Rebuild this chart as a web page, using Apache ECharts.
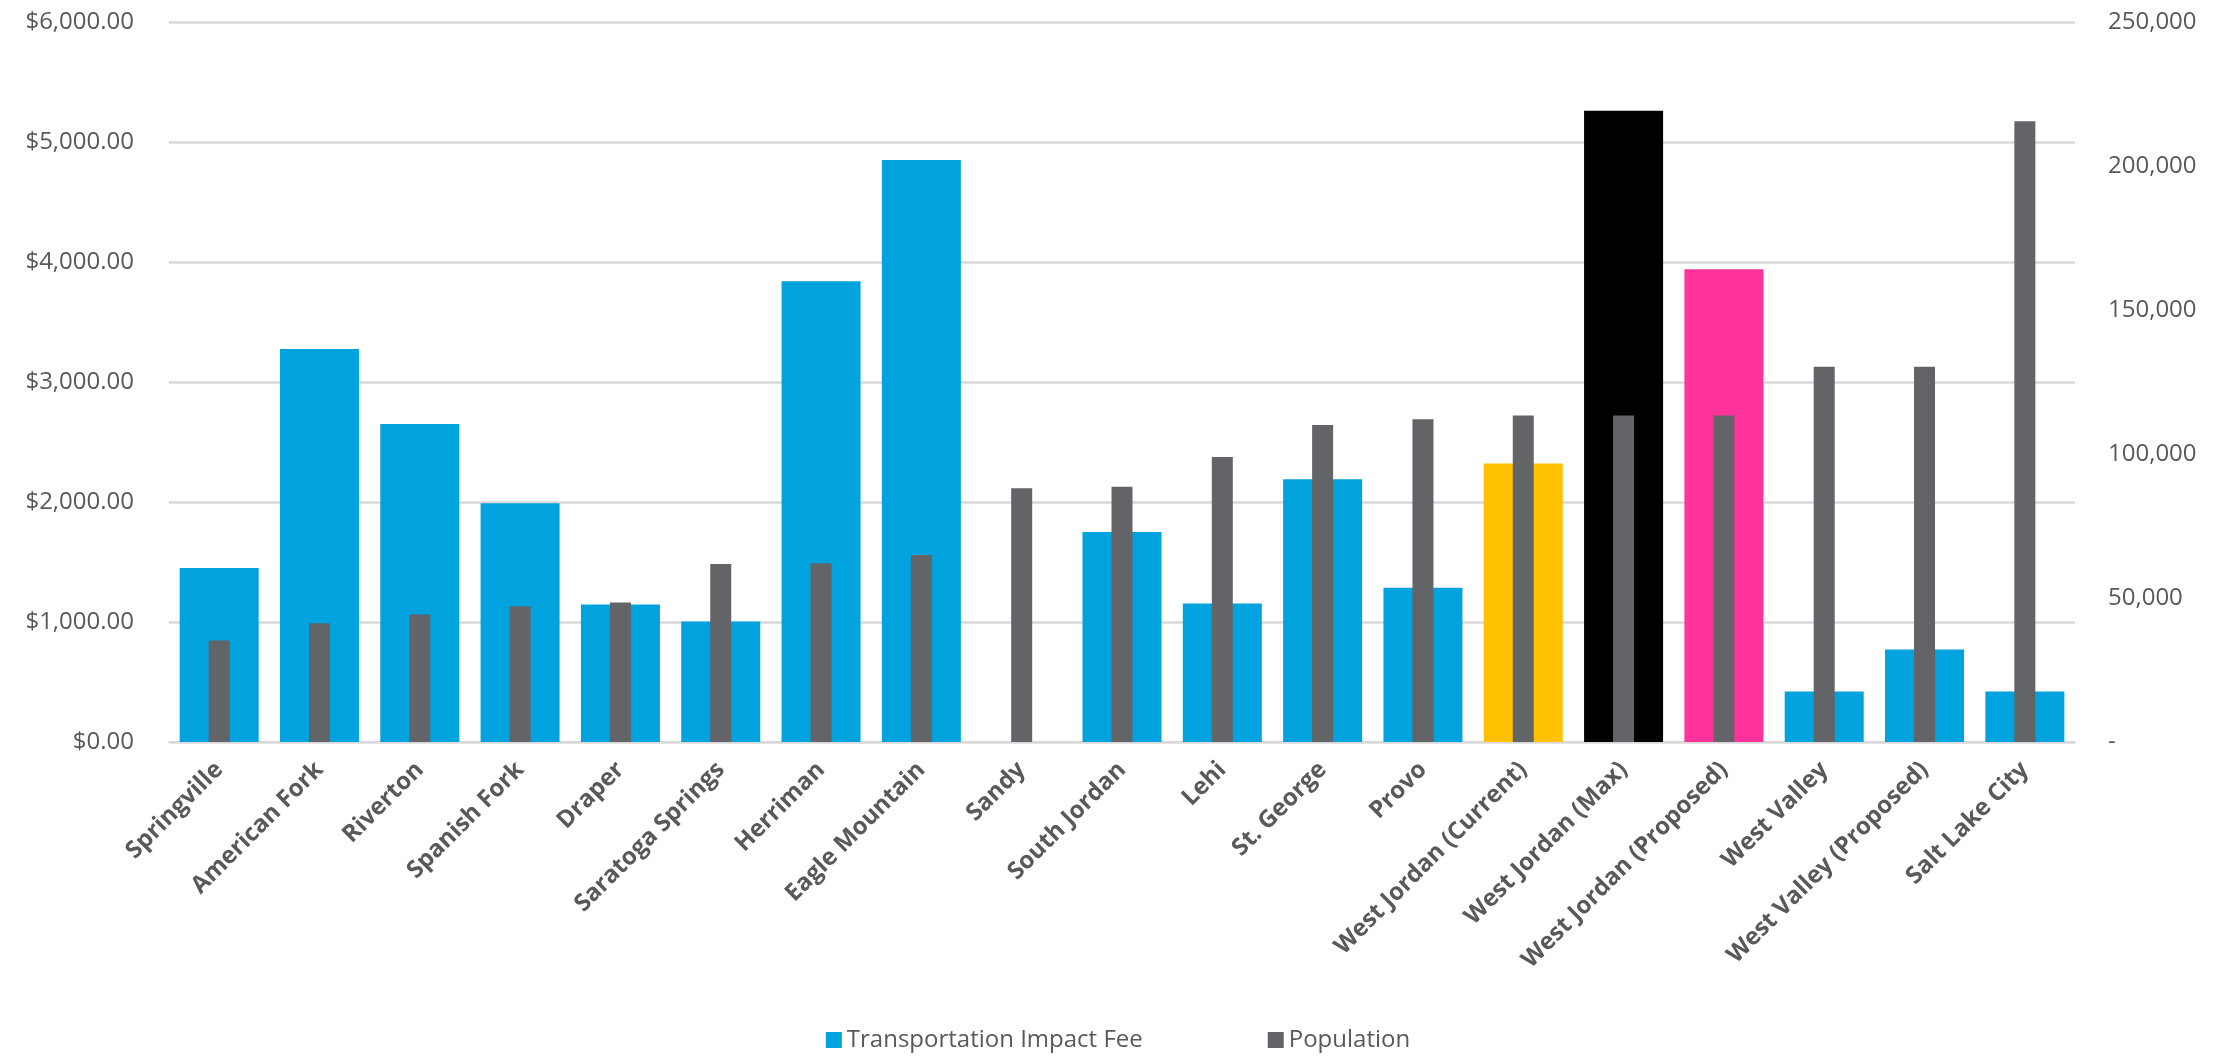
<!DOCTYPE html>
<html>
<head>
<meta charset="utf-8">
<script src="https://cdn.jsdelivr.net/npm/echarts@6/dist/echarts.min.js"></script>
<style>
  html, body { margin: 0; padding: 0; background: #fff; }
  #chart { width: 2236px; height: 1059px; }
</style>
</head>
<body>
<div id="chart"></div>
<script>
const cities = [
  'Springville', 'American Fork', 'Riverton', 'Spanish Fork', 'Draper',
  'Saratoga Springs', 'Herriman', 'Eagle Mountain', 'Sandy', 'South Jordan',
  'Lehi', 'St. George', 'Provo', 'West Jordan (Current)', 'West Jordan (Max)',
  'West Jordan (Proposed)', 'West Valley', 'West Valley (Proposed)', 'Salt Lake City'
];
const impactFee = [
  1450, 3275, 2650, 1990, 1145,
  1005, 3840, 4850, null, 1750,
  1155, 2190, 1285, 2320, 5260,
  3940, 420, 770, 420
];
const population = [
  35200, 41200, 44300, 47100, 48400,
  61800, 62100, 64900, 88100, 88600,
  99000, 110100, 112100, 113400, 113400,
  113400, 130300, 130300, 215500
];
const feeTicks = [0, 1000, 2000, 3000, 4000, 5000, 6000];
const popTicks = [0, 50000, 100000, 150000, 200000, 250000];

// West Jordan bars are highlighted
const highlight = {
  'West Jordan (Current)': '#FFC000',
  'West Jordan (Max)': '#000000',
  'West Jordan (Proposed)': '#FF3399'
};

const blue = '#00A3DD';
const grey = '#636467';
const textColor = '#595959';
const font = '"Open Sans", "Noto Sans", sans-serif';

const feeData = impactFee.map((v, i) => {
  const c = highlight[cities[i]];
  return c ? { value: v, itemStyle: { color: c } } : v;
});

const chart = echarts.init(document.getElementById('chart'));
chart.setOption({
  animation: false,
  backgroundColor: '#ffffff',
  textStyle: { fontFamily: font },
  grid: { left: 169, right: 161, top: 22, bottom: 317 },
  legend: {
    bottom: 2,
    left: 'center',
    itemWidth: 16,
    itemHeight: 16,
    itemGap: 125,
    icon: 'rect',
    textStyle: { color: textColor, fontSize: 24, fontFamily: font },
    data: ['Transportation Impact Fee', 'Population']
  },
  xAxis: [
    {
      type: 'category',
      data: cities,
      axisLine: { lineStyle: { color: '#D9D9D9', width: 2 } },
      axisTick: { show: false },
      axisLabel: {
        rotate: 45,
        interval: 0,
        margin: 24,
        color: textColor,
        fontSize: 24,
        fontWeight: 'bold',
        fontFamily: font
      }
    },
    {
      type: 'category',
      data: cities,
      show: false
    }
  ],
  yAxis: [
    {
      type: 'value',
      min: feeTicks[0],
      max: feeTicks[feeTicks.length - 1],
      interval: feeTicks[1] - feeTicks[0],
      axisLine: { show: false },
      axisTick: { show: false },
      splitLine: { lineStyle: { color: '#D9D9D9', width: 2.5 } },
      axisLabel: {
        margin: 35,
        color: textColor,
        fontSize: 24,
        fontFamily: font,
        formatter: v => '$' + v.toLocaleString('en-US', { minimumFractionDigits: 2, maximumFractionDigits: 2 })
      }
    },
    {
      type: 'value',
      min: popTicks[0],
      max: popTicks[popTicks.length - 1],
      interval: popTicks[1] - popTicks[0],
      axisLine: { show: false },
      axisTick: { show: false },
      splitLine: { show: false },
      axisLabel: {
        margin: 33,
        color: textColor,
        fontSize: 24,
        fontFamily: font,
        formatter: v => (v === 0 ? '-' : v.toLocaleString('en-US'))
      }
    }
  ],
  series: [
    {
      name: 'Transportation Impact Fee',
      type: 'bar',
      xAxisIndex: 0,
      yAxisIndex: 0,
      barWidth: 79,
      itemStyle: { color: blue },
      data: feeData
    },
    {
      name: 'Population',
      type: 'bar',
      xAxisIndex: 1,
      yAxisIndex: 1,
      barWidth: 21,
      itemStyle: { color: grey },
      data: population
    }
  ]
});
</script>
</body>
</html>
